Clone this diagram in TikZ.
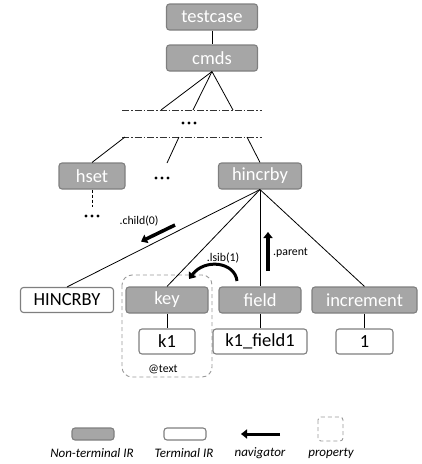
\documentclass[tikz,border=0pt]{standalone}
\usepackage{fontspec}
\setmainfont{Carlito}
\usetikzlibrary{arrows.meta}
\definecolor{ntfill}{HTML}{A6A6A6}
\definecolor{ntdraw}{HTML}{7F7F7F}
\tikzset{
  nt/.style={draw=ntdraw, fill=ntfill, line width=1.1pt, rounded corners=3pt, text=white,
    minimum height=26pt, inner sep=0pt, font=\fontsize{18.5}{19}\selectfont},
  term/.style={draw=ntdraw, fill=white, line width=1.1pt, rounded corners=3pt, text=black,
    minimum height=25pt, inner sep=0pt, font=\fontsize{18.5}{19}\selectfont},
  edge/.style={draw=black, line width=0.8pt},
  dashdot/.style={draw=black!80, line width=0.8pt, dash pattern=on 7pt off 2pt on 1.5pt off 2pt},
  nav/.style={draw=black, line width=3.5pt, -{Triangle[length=6pt,width=9pt]}},
  small/.style={font=\fontsize{11.8}{12}\selectfont, inner sep=0pt},
  leg/.style={font=\fontsize{13}{14}\selectfont\itshape, inner sep=0pt},
  prop/.style={draw=black!40, line width=0.9pt, dashed, dash pattern=on 4pt off 3pt, rounded corners=10pt},
  dot/.style={circle, fill=black, inner sep=0pt, minimum size=3.4pt}
}
\begin{document}
\begin{tikzpicture}[x=1pt,y=-1pt]
\useasboundingbox (0,0) rectangle (422,464);
% property box
\draw[prop] (122,275) rectangle (212,377);
\node[small] (attext) at (163,369) {@text};
% nodes
\node[nt, minimum width=91pt] (testcase) at (212,17) {testcase};
\node[nt, minimum width=91pt] (cmds) at (212,58) {cmds};
\node[nt, minimum width=66pt] (hset) at (92,176) {hset};
\node[nt, minimum width=83pt] (hincrby) at (260,176) {hincrby};
\node[term, minimum width=93pt] (HINCRBY) at (67,300) {HINCRBY};
\node[nt, minimum width=82pt] (key) at (167,300) {key};
\node[nt, minimum width=82pt] (field) at (260,300) {field};
\node[nt, minimum width=105pt] (increment) at (364.5,300) {increment};
\node[term, minimum width=56pt] (k1) at (167,341.5) {k1};
\node[term, minimum width=94pt] (k1f) at (260,341.5) {k1\_field1};
\node[term, minimum width=57pt] (one) at (364.5,341.5) {1};
% dash-dot band
\coordinate (l1a) at (122,110); \coordinate (l1b) at (262,110);
\coordinate (l2a) at (122,137); \coordinate (l2b) at (262,137);
\draw[dashdot] (l1a) -- (l1b);
\draw[dashdot] (l2a) -- (l2b);
% dots
\foreach \n/\x/\y in {a/189/123, b/162/178, c/92/216}{
  \node[dot] (\n1) at (\x-6,\y) {};
  \node[dot] (\n2) at (\x,\y) {};
  \node[dot] (\n3) at (\x+6,\y) {};
}
% edges
\draw[edge] (testcase) -- (cmds);
\coordinate (c1) at (161,110); \coordinate (c2) at (193,110); \coordinate (c3) at (233,110);
\draw[edge] (cmds.south) -- (c1);
\draw[edge] (cmds.south) -- (c2);
\draw[edge] (cmds.south) -- (c3);
\coordinate (d1) at (125,137); \coordinate (d2) at (179,137); \coordinate (d3) at (247,137);
\coordinate (d2e) at (167,163);
\draw[edge] (d1) -- (hset.north);
\draw[edge] (d2) -- (d2e);
\draw[edge] (d3) -- (hincrby.north);
\coordinate (hsetdown) at (92,207);
\draw[edge, dashed, dash pattern=on 3pt off 2pt] (hset.south) -- (hsetdown);
\draw[edge] (hincrby.south) -- (HINCRBY.north);
\draw[edge] (hincrby.south) -- (key.north);
\draw[edge] (hincrby.south) -- (field.north);
\draw[edge] (hincrby.south) -- (increment.north);
\draw[edge] (key) -- (k1);
\draw[edge] (field) -- (k1f);
\draw[edge] (increment) -- (one);
% navigators
\coordinate (ch0a) at (175,225); \coordinate (ch0b) at (141,241.5);
\draw[nav] (ch0a) -- (ch0b);
\node[small] (childlbl) at (139,221) {.child(0)};
\coordinate (para) at (268,271); \coordinate (parb) at (268,232);
\draw[nav] (para) -- (parb);
\node[small, anchor=west] (parlbl) at (273,253) {.parent};
\coordinate (lsa) at (237,281); \coordinate (lsb) at (189,279);
\draw[nav, line width=3pt] (lsa) .. controls (235,262) and (205,258) .. (lsb);
\node[small] (lsiblbl) at (223,258) {.lsib(1)};
% legend
\node[nt, minimum width=42pt, minimum height=12pt] (legnt) at (93,434) {};
\node[leg] (legntl) at (92,453) {Non-terminal IR};
\node[term, minimum width=42pt, minimum height=12pt] (legt) at (185,434) {};
\node[leg] (legtl) at (184,453) {Terminal IR};
\coordinate (lna) at (280,434); \coordinate (lnb) at (241,434);
\draw[nav, line width=3pt] (lna) -- (lnb);
\node[leg] (legnavl) at (260,453) {navigator};
\draw[prop, rounded corners=3pt] (318,417) rectangle (343,441);
\node[leg] (legpropl) at (331,453) {property};
\end{tikzpicture}
\end{document}
